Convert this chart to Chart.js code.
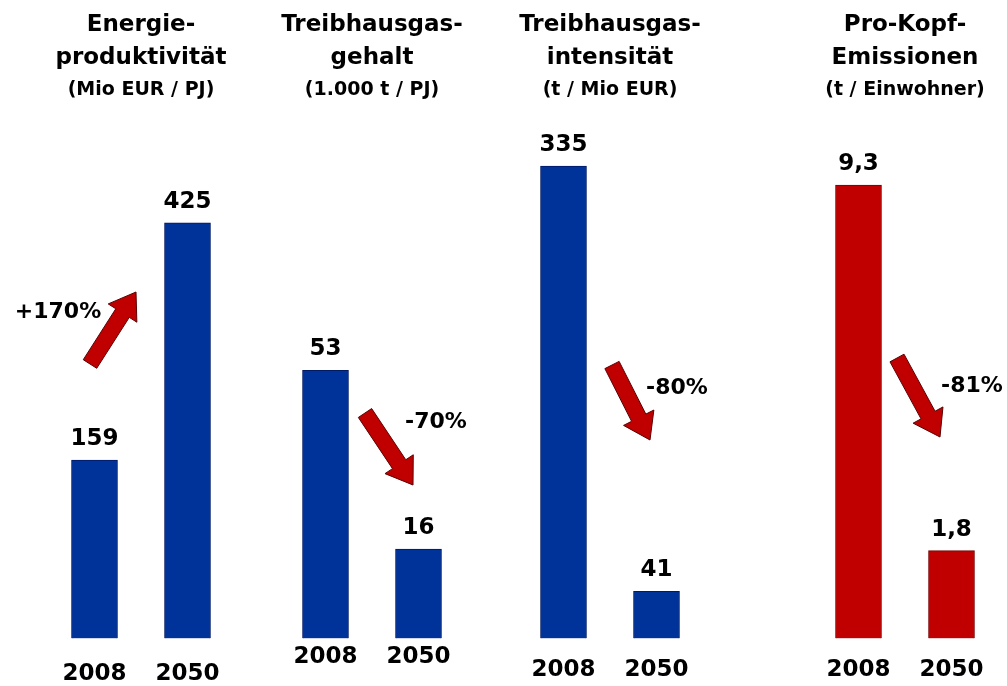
<!DOCTYPE html>
<html lang="de">
<head>
<meta charset="utf-8">
<script src="https://cdn.jsdelivr.net/npm/chart.js@4"></script>
<style>
  html, body { margin: 0; padding: 0; background: #fff; overflow: hidden; }
  body { width: 1007px; height: 686px; position: relative; }
  canvas { position: absolute; top: 0; }
</style>
</head>
<body>
<canvas id="c1" width="260" height="740"></canvas>
<canvas id="c2" width="260" height="740"></canvas>
<canvas id="c3" width="260" height="740"></canvas>
<canvas id="c4" width="260" height="740"></canvas>
<script>
const years = ['2008', '2050'];
const energieproduktivitaet = [159, 425];
const thgGehalt = [53, 16];
const thgIntensitaet = [335, 41];
const proKopfEmissionen = [9.3, 1.8];
const changes = ['+170%', '-70%', '-80%', '-81%'];
const titles = [
    ['Energie-', 'produktivität'],
    ['Treibhausgas-', 'gehalt'],
    ['Treibhausgas-', 'intensität'],
    ['Pro-Kopf-', 'Emissionen']
];
const units = ['(Mio EUR / PJ)', '(1.000 t / PJ)', '(t / Mio EUR)', '(t / Einwohner)'];

const FONT = '"DejaVu Sans", "Liberation Sans", sans-serif';
const BLUE = '#003399';
const RED = '#c00000';

function drawArrow(ctx, x1, y1, x2, y2) {
    const len = Math.hypot(x2 - x1, y2 - y1);
    const dx = (x2 - x1) / len, dy = (y2 - y1) / len;
    const nx = -dy, ny = dx;
    const shaft = 8, head = 17, headLen = 25;
    const hx = x2 - dx * headLen, hy = y2 - dy * headLen;
    ctx.beginPath();
    ctx.moveTo(x1 + nx * shaft, y1 + ny * shaft);
    ctx.lineTo(hx + nx * shaft, hy + ny * shaft);
    ctx.lineTo(hx + nx * head, hy + ny * head);
    ctx.lineTo(x2, y2);
    ctx.lineTo(hx - nx * head, hy - ny * head);
    ctx.lineTo(hx - nx * shaft, hy - ny * shaft);
    ctx.lineTo(x1 - nx * shaft, y1 - ny * shaft);
    ctx.closePath();
    ctx.fillStyle = RED;
    ctx.fill();
    ctx.lineWidth = 1;
    ctx.strokeStyle = '#5a0000';
    ctx.stroke();
}

// value labels, arrow and percentage
const annotate = {
    id: 'annotate',
    afterDatasetsDraw(chart, args, opts) {
        const ctx = chart.ctx;
        const area = chart.chartArea;
        const cx = (area.left + area.right) / 2;
        const values = chart.data.datasets[0].data;
        ctx.save();
        ctx.font = 'bold 23px ' + FONT;
        ctx.fillStyle = '#000';
        ctx.textAlign = 'center';
        ctx.textBaseline = 'middle';
        chart.getDatasetMeta(0).data.forEach((bar, i) => {
            ctx.fillText(String(values[i]).replace('.', ','), bar.x, bar.y - 21);
        });
        const a = opts.arrow;
        drawArrow(ctx, cx + a[0], a[1], cx + a[2], a[3]);
        ctx.fillStyle = '#000';
        ctx.font = 'bold 22px ' + FONT;
        ctx.fillText(opts.change, cx + opts.label[0], opts.label[1]);
        ctx.restore();
    }
};

const panels = [
    { id: 'c1', cx: 141, data: energieproduktivitaet, color: BLUE, min: -41, max: 552,
      tickPad: 22, padBottom: 30, arrow: [-51, 364, -5, 292], label: [-83, 312] },
    { id: 'c2', cx: 372, data: thgGehalt, color: BLUE, min: -2.5, max: 107,
      tickPad: 5, padBottom: 64, arrow: [-7, 413, 41, 485], label: [64, 422] },
    { id: 'c3', cx: 610, data: thgIntensitaet, color: BLUE, min: 8.4, max: 374,
      tickPad: 18, padBottom: 38, arrow: [2, 365, 40, 440], label: [67, 388] },
    { id: 'c4', cx: 905, data: proKopfEmissionen, color: RED, min: 0, max: 10.85,
      tickPad: 18, padBottom: 38, arrow: [-8, 358, 35, 437], label: [67, 386] }
];

panels.forEach((p, i) => {
    const canvas = document.getElementById(p.id);
    canvas.style.left = (p.cx - 130) + 'px';
    new Chart(canvas, {
        type: 'bar',
        data: {
            labels: years,
            datasets: [{
                data: p.data,
                base: p.min,
                backgroundColor: p.color,
                borderColor: p.color === RED ? '#7a0000' : '#001a66',
                borderWidth: 1,
                barThickness: 46
            }]
        },
        options: {
            responsive: false,
            animation: false,
            layout: { padding: { left: 37, right: 37, top: 0, bottom: p.padBottom } },
            scales: {
                x: {
                    grid: { display: false, drawTicks: false },
                    border: { display: false },
                    ticks: {
                        color: '#000',
                        padding: p.tickPad,
                        font: { family: FONT, size: 23, weight: 'bold' }
                    }
                },
                y: { display: false, min: p.min, max: p.max }
            },
            plugins: {
                legend: { display: false },
                tooltip: { enabled: false },
                title: {
                    display: true,
                    text: titles[i],
                    color: '#000',
                    padding: { top: 9, bottom: 0 },
                    font: { family: FONT, size: 23, weight: 'bold', lineHeight: 1.43 }
                },
                subtitle: {
                    display: true,
                    text: units[i],
                    color: '#000',
                    padding: { top: 4, bottom: 8 },
                    font: { family: FONT, size: 19, weight: 'bold' }
                },
                annotate: { arrow: p.arrow, label: p.label, change: changes[i] }
            }
        },
        plugins: [annotate]
    });
});
</script>
</body>
</html>
